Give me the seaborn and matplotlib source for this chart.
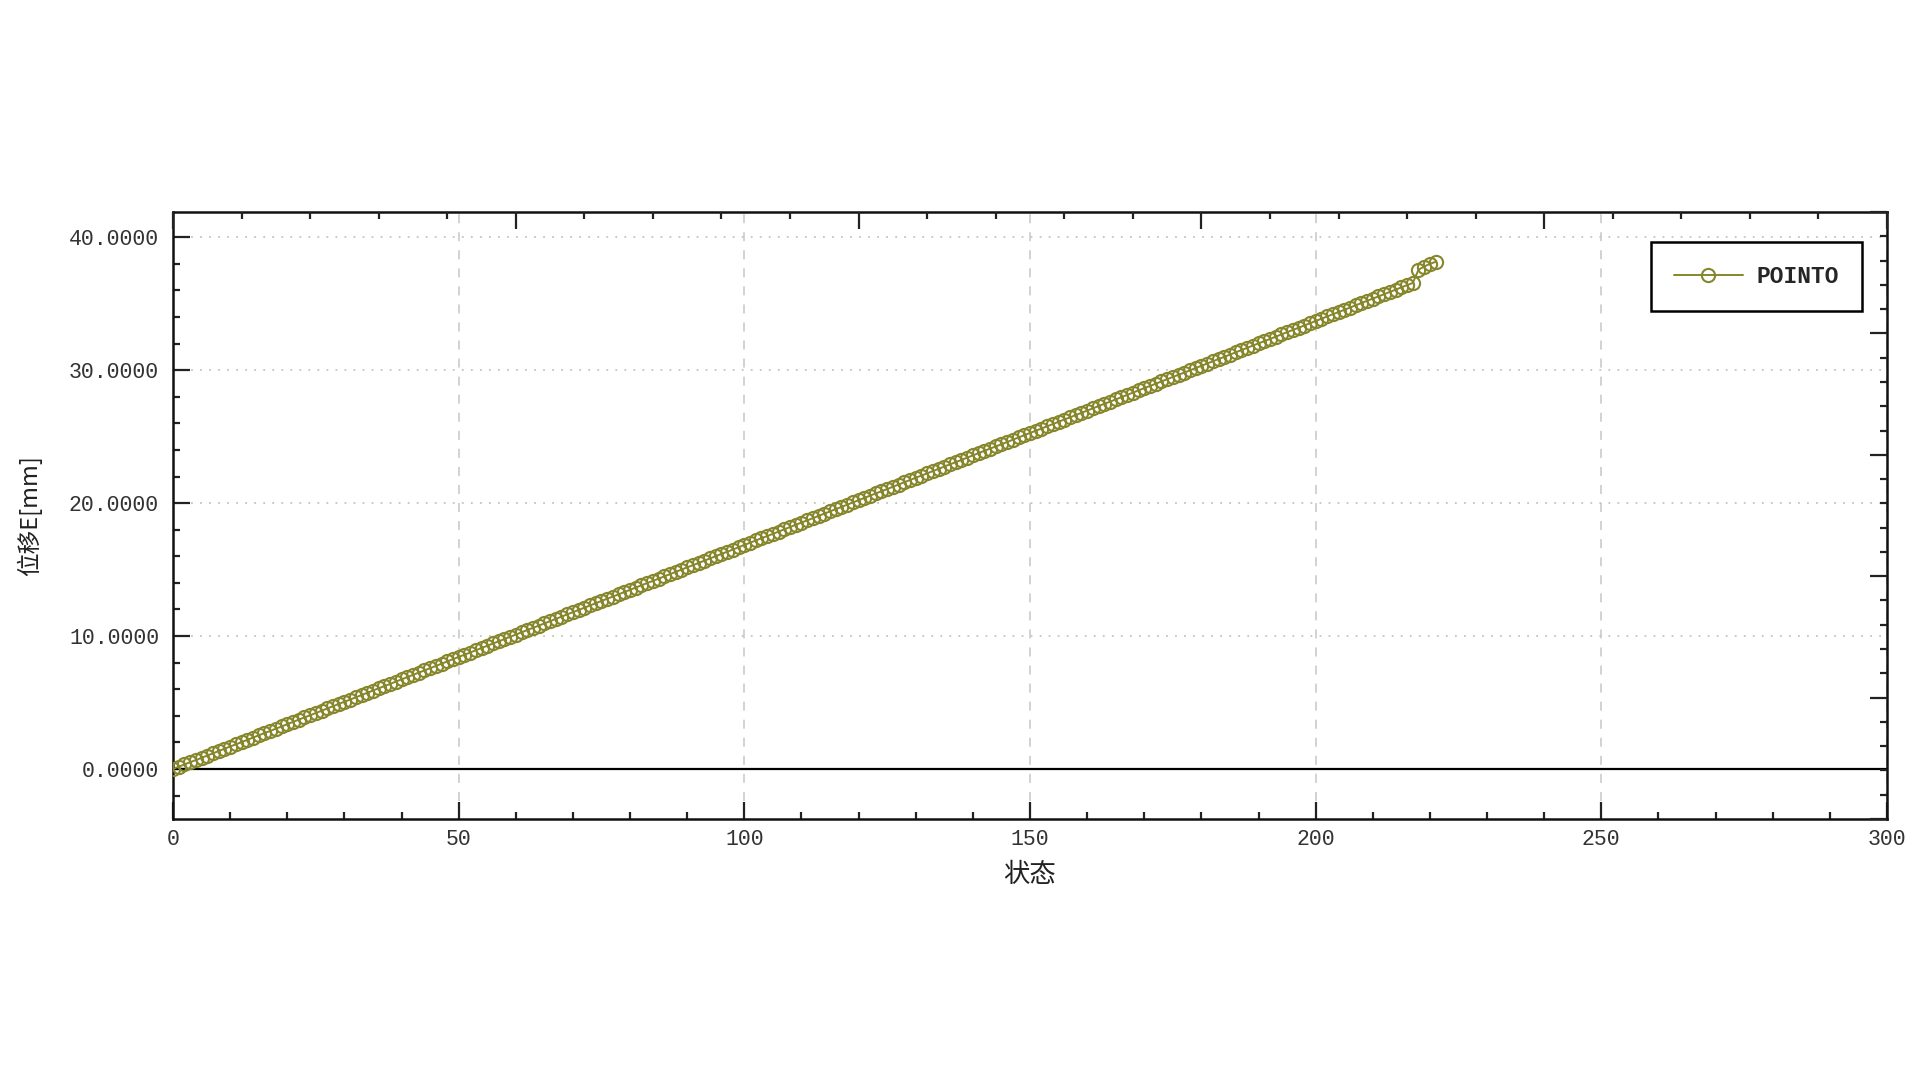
import numpy as np
import matplotlib
matplotlib.use("Agg")
import matplotlib.pyplot as plt
from matplotlib.ticker import MultipleLocator
import seaborn as sns

# readings of the POINTO curve, one value per state
state = list(range(0, 222))
displacement = [
    0.00, 0.17, 0.34, 0.51, 0.67, 0.84, 1.01, 1.18, 1.35, 1.52,
    1.69, 1.85, 2.02, 2.19, 2.36, 2.53, 2.70, 2.86, 3.03, 3.20,
    3.37, 3.54, 3.71, 3.88, 4.04, 4.21, 4.38, 4.55, 4.72, 4.89,
    5.06, 5.22, 5.39, 5.56, 5.73, 5.90, 6.07, 6.23, 6.40, 6.57,
    6.74, 6.91, 7.08, 7.25, 7.41, 7.58, 7.75, 7.92, 8.09, 8.26,
    8.43, 8.59, 8.76, 8.93, 9.10, 9.27, 9.44, 9.60, 9.77, 9.94,
    10.11, 10.28, 10.45, 10.62, 10.78, 10.95, 11.12, 11.29, 11.46, 11.63,
    11.80, 11.96, 12.13, 12.30, 12.47, 12.64, 12.81, 12.97, 13.14, 13.31,
    13.48, 13.65, 13.82, 13.99, 14.15, 14.32, 14.49, 14.66, 14.83, 15.00,
    15.17, 15.33, 15.50, 15.67, 15.84, 16.01, 16.18, 16.34, 16.51, 16.68,
    16.85, 17.02, 17.19, 17.36, 17.52, 17.69, 17.86, 18.03, 18.20, 18.37,
    18.54, 18.70, 18.87, 19.04, 19.21, 19.38, 19.55, 19.71, 19.88, 20.05,
    20.22, 20.39, 20.56, 20.73, 20.89, 21.06, 21.23, 21.40, 21.57, 21.74,
    21.91, 22.07, 22.24, 22.41, 22.58, 22.75, 22.92, 23.08, 23.25, 23.42,
    23.59, 23.76, 23.93, 24.10, 24.26, 24.43, 24.60, 24.77, 24.94, 25.11,
    25.28, 25.44, 25.61, 25.78, 25.95, 26.12, 26.29, 26.45, 26.62, 26.79,
    26.96, 27.13, 27.30, 27.47, 27.63, 27.80, 27.97, 28.14, 28.31, 28.48,
    28.65, 28.81, 28.98, 29.15, 29.32, 29.49, 29.66, 29.82, 29.99, 30.16,
    30.33, 30.50, 30.67, 30.84, 31.00, 31.17, 31.34, 31.51, 31.68, 31.85,
    32.02, 32.18, 32.35, 32.52, 32.69, 32.86, 33.03, 33.19, 33.36, 33.53,
    33.70, 33.87, 34.04, 34.21, 34.37, 34.54, 34.71, 34.88, 35.05, 35.22,
    35.39, 35.55, 35.72, 35.89, 36.06, 36.23, 36.40, 36.56, 37.55, 37.80,
    38.00, 38.15,
]
series_name = "POINTO"
x_label = "状态"
y_label = "位移E[mm]"
y_ticks = [0, 10, 20, 30, 40]
x_ticks = [0, 50, 100, 150, 200, 250, 300]

olive = "#86862c"
mono = ["Liberation Mono", "DejaVu Sans Mono"]

sns.set_style("white")
plt.rcParams["font.family"] = ["Noto Sans CJK SC", "DejaVu Sans"]

fig = plt.figure(figsize=(19.2, 10.8), dpi=100)
ax = fig.add_axes([0.0901, 0.2417, 0.8927, 0.562])

# grid first so the curve sits on top
ax.set_axisbelow(True)
ax.grid(axis="x", which="major", linestyle=(0, (5, 5)), color="#cfcfcf", linewidth=1.3)
ax.grid(axis="y", which="major", linestyle=(0, (1, 4)), color="#c4c4c4", linewidth=1.3)
ax.axhline(0, color="black", linewidth=1.6, zorder=1)

sns.lineplot(
    x=state, y=displacement, ax=ax, color=olive, linewidth=1.4,
    marker="o", markersize=9.5, markerfacecolor="none",
    markeredgecolor=olive, markeredgewidth=1.5, label=series_name,
    zorder=3,
)

ax.set_xlim(0, 300)
ax.set_ylim(-3.76, 41.9)
ax.set_xticks(x_ticks)
ax.set_yticks(y_ticks)
ax.set_yticklabels([f"{v:.4f}" for v in y_ticks], family=mono, fontsize=15.5, color="#333333")
ax.set_xticklabels([str(v) for v in x_ticks], family=mono, fontsize=15.5, color="#333333")
ax.xaxis.set_minor_locator(MultipleLocator(10))
ax.yaxis.set_minor_locator(MultipleLocator(2))
ax.tick_params(which="both", direction="in", top=False, right=False, color="#222222", width=1.6)
ax.tick_params(which="major", length=12)
ax.tick_params(which="minor", length=5)
ax.tick_params(axis="y", pad=10)
ax.tick_params(axis="x", pad=7)

ax.set_xlabel(x_label, fontsize=19, labelpad=8, color="#222222")
ax.set_ylabel(y_label, fontsize=17, color="#222222")
ax.yaxis.set_label_coords(-0.0765, 0.5)

for sp in ax.spines.values():
    sp.set_linewidth(1.8)
    sp.set_color("#111111")

# top and right scales split the frame into five parts
ax_top = ax.twiny()
ax_top.set_xlim(0, 300)
ax_top.xaxis.set_major_locator(MultipleLocator(60))
ax_top.xaxis.set_minor_locator(MultipleLocator(12))
ax_top.tick_params(which="both", direction="in", labeltop=False, color="#222222", width=1.6)
ax_top.tick_params(which="major", length=12)
ax_top.tick_params(which="minor", length=5)

ax_right = ax.twinx()
ax_right.set_ylim(0, 1)
ax_right.yaxis.set_major_locator(MultipleLocator(0.2))
ax_right.yaxis.set_minor_locator(MultipleLocator(0.04))
ax_right.tick_params(which="both", direction="in", labelright=False, color="#222222", width=1.6)
ax_right.tick_params(which="major", length=12)
ax_right.tick_params(which="minor", length=5)
for a in (ax_top, ax_right):
    for sp in a.spines.values():
        sp.set_visible(False)

leg = ax.legend(
    loc="upper right", bbox_to_anchor=(0.9854, 0.9506), borderaxespad=0,
    frameon=True, fancybox=False, framealpha=1, edgecolor="black",
    prop={"family": mono, "size": 16.5, "weight": "bold"},
    handlelength=3.0, handletextpad=0.6, borderpad=1.0,
)
leg.get_frame().set_linewidth(1.8)
leg.set_zorder(10)

fig.savefig("out.png", dpi=100)
